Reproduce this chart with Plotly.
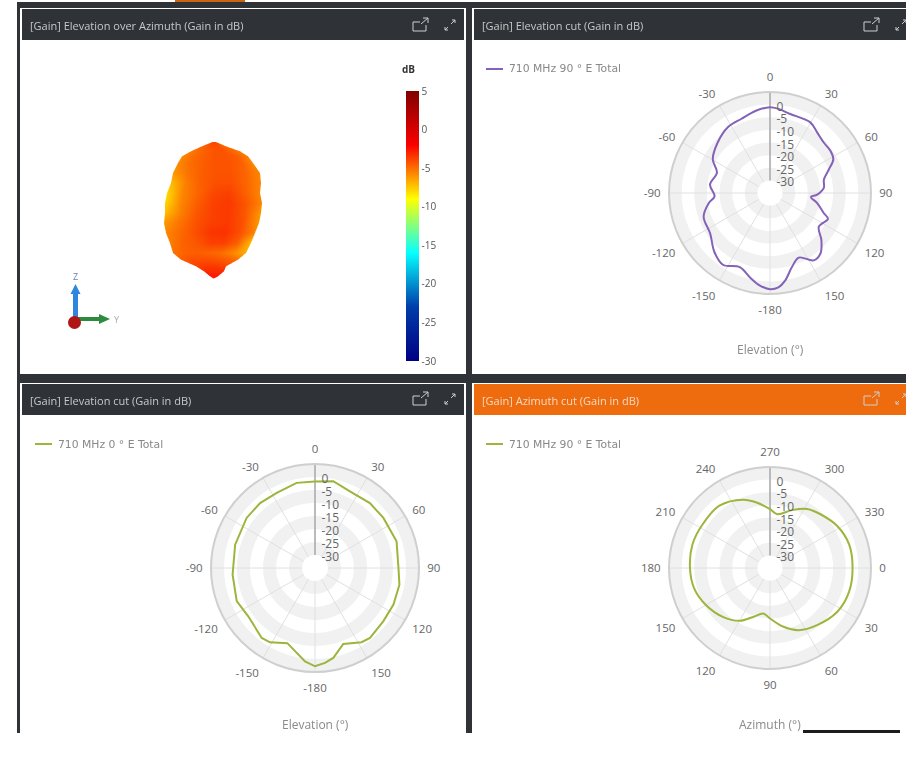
import plotly.graph_objects as go

W, H = 906, 757

# ---- Data ----
el90_theta = [0, 5.7, 14.3, 29.7, 37.9, 46.8, 55.2, 62, 68.2, 76, 84.6, 92, 95.6, 102, 110.6, 114, 124.6, 132.5,
              140.2, 147, 156, 163.5, 170.2, 174.9, 180, 186.2, 193.5, 202.2, 213.3, 223.3, 236, 250.4, 260.6,
              266.5, 278, 291, 300.5, 314, 327.3, 339, 350.7, 360]
el90_gain = [-1.0, -1.5, -2.7, -2.8, -4.6, -5.8, -5.8, -6.6, -9.9, -13, -13.6, -16.3, -18.7, -15.9, -12.2, -9.9, -11.5, -7.4,
             -3.8, -3.2, -7, -4.4, 0.2, 2.5, 3.1, 1.9, -0.7, -3.3, -1, -2.9, -6.4, -7.1, -10.4,
             -13, -11, -12.5, -8.7, -6.2, -4.1, -3.5, -1.9, -1.0]
el0_theta = [0, 11.9, 24.5, 40.2, 53.8, 71.9, 90, 101.2, 115, 128, 141.8, 147.9, 159.6, 168.5, 174, 180,
             186.1, 200.2, 211.2, 217.3, 234.1, 247, 265.4, 286.3, 306.2, 319.8, 333, 347.8, 360]
el0_gain = [-1.7, -0.9, -2.6, -2.3, -2.4, -2, -2.9, -1.9, -1.7, -1.7, -0.8, -1.3, -3.8, 0.3, 1.7, 2.8,
            1.1, -4.2, -1.6, -1.2, -3.3, -2.3, -3.2, -3, -2.4, -2.3, -2.6, -1.5, -1.7]
az_theta = [270, 277.8, 290.7, 302.2, 313.2, 328, 343.4, 360, 376.6, 393, 410.5, 425.3, 437, 450, 458.4, 469,
            479.8, 494, 510, 525, 540, 557, 573, 591, 608.5, 618.4, 630]
az_gain = [-11.7, -13.5, -10.5, -7.4, -5.8, -3.6, -2.3, -2.3, -2.3, -3.2, -5.7, -7.9, -11.1, -15, -16.8, -14.5,
           -10.9, -8.1, -5.7, -3.9, -3.3, -2.9, -3.2, -3.2, -5.9, -8.5, -11.7]

elev_ticks = [0, 30, 60, 90, 120, 150, 180, 210, 240, 270, 300, 330]
elev_labels = ["0", "30", "60", "90", "120", "150", "-180", "-150", "-120", "-90", "-60", "-30"]
az_ticks = [0, 30, 60, 90, 120, 150, 180, 210, 240, 270, 300, 330]
az_labels = ["0", "30", "60", "90", "120", "150", "180", "210", "240", "270", "300", "330"]
gain_ticks = [0, -5, -10, -15, -20, -25, -30]
gain_labels = ["0", "-5", "-10", "-15", "-20", "-25", "-30"]
band_base = [-30, -20, -10, 0]
band_step = 5

cbar_ticks = [5, 0, -5, -10, -15, -20, -25, -30]
cbar_labels = ["5", "0", "-5", "-10", "-15", "-20", "-25", "-30"]

# 3D pattern silhouette as seen along +X: height, left and right extent
blob_z = [51, 46.7, 41.7, 36.7, 30, 20, 10, 0, -10, -20, -30, -40, -50, -60, -66.7, -73.3, -78.3, -83.3, -85.3]
blob_left = [-0.5, -11, -22, -31, -35, -40, -42, -46, -48, -48, -49, -47, -43, -40, -32, -17, -9, -3, 0]
blob_right = [3, 13, 27, 35, 40, 47, 48, 47, 49, 48, 46, 42, 38, 33, 25, 13, 11, 5, 1]
blob_gain = [
    [-4.0, -4.0, -4.0, -4.0, -4.0, -4.0, -4.0],
    [-4.8, -4.6, -4.2, -4.2, -4.2, -4.6, -4.8],
    [-5.4, -4.9, -4.6, -4.3, -4.3, -4.8, -5.3],
    [-5.8, -5.0, -4.6, -4.3, -4.3, -4.6, -5.5],
    [-5.8, -5.0, -4.6, -4.3, -4.3, -4.6, -5.7],
    [-6.2, -5.2, -4.6, -4.3, -4.3, -4.8, -5.7],
    [-7.2, -5.5, -4.6, -4.2, -4.2, -4.8, -5.7],
    [-8.0, -5.7, -4.8, -4.0, -3.8, -4.6, -5.7],
    [-8.0, -5.7, -4.6, -3.8, -3.6, -4.4, -5.7],
    [-7.2, -5.5, -4.4, -3.8, -3.6, -4.4, -6.2],
    [-6.2, -5.2, -4.3, -3.8, -3.6, -4.3, -6.2],
    [-5.7, -4.9, -4.2, -3.5, -3.4, -4.2, -5.7],
    [-5.5, -4.7, -4.4, -3.8, -3.8, -4.6, -7.2],
    [-5.2, -4.7, -4.6, -4.8, -5.0, -5.8, -6.8],
    [-4.7, -4.2, -4.2, -4.2, -4.4, -4.6, -5.2],
    [-3.8, -3.8, -3.6, -3.6, -3.6, -3.8, -3.8],
    [-3.2, -3.2, -3.2, -3.2, -3.2, -3.2, -3.2],
    [-2.8, -2.8, -2.8, -2.8, -2.8, -2.8, -2.8],
    [-2.8, -2.8, -2.8, -2.8, -2.8, -2.8, -2.8],
]

# ---- Style ----
FRAME = "#2f3338"
ORANGE = "#ee6c0d"
PURPLE = "#8462b8"
OLIVE = "#9cb53c"
BAND = "#f1f1f1"
SPOKE = "#e0e0e0"
TXT = "#666666"
TITLE_FONT = "Open Sans"


def px(x):
    return x / W


def py(y):
    return 1 - y / H


fig = go.Figure()


def add_polar(name, theta, gain, color, ticks, top, shape):
    for b in band_base:
        fig.add_trace(go.Barpolar(theta=[180], r=[band_step], base=[b], width=[360], subplot=name,
                                  marker=dict(color=BAND, line=dict(width=0)), showlegend=False, hoverinfo="skip"))
    for t in ticks:
        fig.add_trace(go.Scatterpolar(theta=[t, t], r=[-30, 5], subplot=name, mode="lines",
                                      line=dict(color=SPOKE, width=1), showlegend=False, hoverinfo="skip"))
    fig.add_trace(go.Scatterpolar(theta=[top, top], r=[-30, 5], subplot=name, mode="lines",
                                  line=dict(color="#aaaaaa", width=1.5), showlegend=False, hoverinfo="skip"))
    fig.add_trace(go.Scatterpolar(theta=theta, r=gain, subplot=name, mode="lines",
                                  line=dict(color=color, width=2, shape=shape), showlegend=False))


def polar_layout(cx, cy, r, ticks, labels, rotation):
    return dict(
        domain=dict(x=[px(cx - r), px(cx + r)], y=[py(cy + r), py(cy - r)]),
        bgcolor="rgba(0,0,0,0)",
        bargap=0,
        radialaxis=dict(range=[-35, 5], tickvals=gain_ticks, ticktext=gain_labels, showgrid=False, showline=False,
                        ticks="", angle=90, side="clockwise",
                        tickfont=dict(family=TITLE_FONT, size=12, color=TXT), layer="above traces"),
        angularaxis=dict(direction="clockwise", rotation=rotation, tickmode="array", tickvals=ticks, ticktext=labels,
                         showgrid=False, linecolor="#cfcfcf", linewidth=2, ticks="outside", ticklen=5,
                         tickcolor="rgba(0,0,0,0)", tickfont=dict(family=TITLE_FONT, size=11.5, color=TXT)),
    )


# Pattern surface, seen along +X
n_col = len(blob_gain[0])
Y = [[l + (r_ - l) * c / (n_col - 1) for c in range(n_col)] for l, r_ in zip(blob_left, blob_right)]
Z = [[z] * n_col for z in blob_z]
X = [[0] * n_col for _ in blob_z]
fig.add_trace(go.Surface(
    x=X, y=Y, z=Z, surfacecolor=blob_gain, cmin=-30, cmax=5, colorscale="Jet", scene="scene",
    lighting=dict(ambient=1, diffuse=0, specular=0, roughness=1, fresnel=0), hoverinfo="skip", showscale=True,
    colorbar=dict(x=px(406), xanchor="left", xpad=0, ypad=0, y=py(361), yanchor="bottom",
                  lenmode="pixels", len=270, thicknessmode="pixels", thickness=13, outlinewidth=0, ticks="",
                  tickmode="array", tickvals=cbar_ticks, ticktext=cbar_labels,
                  tickfont=dict(family=TITLE_FONT, size=10, color="#555555")),
))

add_polar("polar", el90_theta, el90_gain, PURPLE, elev_ticks, 0, "spline")
add_polar("polar2", el0_theta, el0_gain, OLIVE, elev_ticks, 0, "linear")
add_polar("polar3", az_theta, az_gain, OLIVE, az_ticks, 270, "spline")


def rect(x0, y0, x1, y1, color, layer="below"):
    return dict(type="rect", xref="paper", yref="paper", x0=px(x0), x1=px(x1), y0=py(y1), y1=py(y0),
                fillcolor=color, line=dict(width=0), layer=layer)


def seg(x0, y0, x1, y1, color, width=1):
    return dict(type="line", xref="paper", yref="paper", x0=px(x0), x1=px(x1), y0=py(y0), y1=py(y1),
                line=dict(color=color, width=width), layer="above")


def path(d, fill=None, line=None, lw=1):
    parts = []
    for item in d:
        if isinstance(item, str):
            parts.append(item)
        else:
            parts.append(f"{px(item[0]):.5f},{py(item[1]):.5f}")
    return dict(type="path", xref="paper", yref="paper", path=" ".join(parts),
                fillcolor=fill or "rgba(0,0,0,0)", line=dict(color=line or "rgba(0,0,0,0)", width=lw), layer="above")


shapes = [
    rect(175, 0, 245, 3, "#c9640f"),
    rect(17, 2, 906, 733, FRAME),
    rect(20, 8, 466, 374, "#ffffff"),
    rect(472, 8, 906, 374, "#ffffff"),
    rect(20, 383, 466, 733, "#ffffff"),
    rect(472, 383, 906, 733, "#ffffff"),
    rect(22, 9, 464, 40, FRAME),
    rect(474, 9, 906, 40, FRAME),
    rect(22, 384, 464, 415, FRAME),
    rect(474, 384, 906, 415, ORANGE),
    rect(803, 730, 900, 733, "#1c1c1c", "above"),
]


def header_icons(ox, oy, color="#cfcfcf"):
    return [
        path(["M", (ox + 0, oy + 4), "L", (ox + 0, oy + 13), "L", (ox + 13, oy + 13), "L", (ox + 13, oy + 7)], line=color),
        path(["M", (ox + 0, oy + 4), "L", (ox + 7, oy + 4)], line=color),
        path(["M", (ox + 8, oy + 6), "L", (ox + 15, oy + 0)], line=color),
        path(["M", (ox + 10, oy + 0), "L", (ox + 15, oy + 0), "L", (ox + 15, oy + 5)], line=color),
        path(["M", (ox + 32, oy + 12), "L", (ox + 35, oy + 9)], line=color),
        path(["M", (ox + 32, oy + 9), "L", (ox + 32, oy + 12), "L", (ox + 35, oy + 12)], line=color),
        path(["M", (ox + 38, oy + 6), "L", (ox + 42, oy + 2)], line=color),
        path(["M", (ox + 39, oy + 2), "L", (ox + 42, oy + 2), "L", (ox + 42, oy + 5)], line=color),
    ]


shapes += header_icons(413, 18) + header_icons(864, 18) + header_icons(413, 392) + header_icons(864, 392)

# legend samples
shapes += [seg(486, 69, 503, 69, PURPLE, 2), seg(35, 444, 52, 444, OLIVE, 2), seg(486, 444, 503, 444, OLIVE, 2)]

# orientation triad
shapes += [
    seg(75.5, 320, 75.5, 292, "#2e86de", 5),
    path(["M", (70.5, 294), "L", (75.5, 284), "L", (80.5, 294), "Z"], fill="#2e86de"),
    seg(76, 319, 101, 319, "#2e8b3d", 4),
    path(["M", (99, 314), "L", (110, 319), "L", (99, 324), "Z"], fill="#2e8b3d"),
    dict(type="circle", xref="paper", yref="paper", x0=px(68), x1=px(81), y0=py(329), y1=py(316),
         fillcolor="#b01515", line=dict(width=0), layer="above"),
]


def note(x, y, text, size=11, color="#c8c8c8", family=TITLE_FONT, anchor="left", bold=False):
    return dict(xref="paper", yref="paper", x=px(x), y=py(y), text=f"<b>{text}</b>" if bold else text, showarrow=False,
                xanchor=anchor, yanchor="middle", font=dict(family=family, size=size, color=color))


annotations = [
    note(28, 25, "[Gain] Elevation over Azimuth (Gain in dB)"),
    note(480, 25, "[Gain] Elevation cut (Gain in dB)"),
    note(28, 400, "[Gain] Elevation cut (Gain in dB)"),
    note(480, 400, "[Gain] Azimuth cut (Gain in dB)", color="#f3d9c2"),
    note(507, 69, "710 MHz 90 ° E Total", 10.8, "#888888", "DejaVu Sans"),
    note(56, 444, "710 MHz 0 ° E Total", 10.8, "#888888", "DejaVu Sans"),
    note(507, 444, "710 MHz 90 ° E Total", 10.8, "#888888", "DejaVu Sans"),
    note(770, 350, "Elevation (°)", 12, "#8a8a8a", anchor="center"),
    note(315, 724, "Elevation (°)", 12, "#8a8a8a", anchor="center"),
    note(770, 724, "Azimuth (°)", 12, "#8a8a8a", anchor="center"),
    note(408, 69, "dB", 10, "#333333", anchor="center", bold=True),
    note(75.5, 276, "Z", 9, "#6a7fb5", anchor="center"),
    note(117, 319, "Y", 9, "#aaaaaa", anchor="center"),
]

fig.update_layout(
    width=W, height=H, margin=dict(l=0, r=0, t=0, b=0), autosize=False,
    paper_bgcolor="#ffffff", showlegend=False, shapes=shapes, annotations=annotations,
    polar=polar_layout(770, 193, 101, elev_ticks, elev_labels, 90),
    polar2=polar_layout(315, 568, 104, elev_ticks, elev_labels, 90),
    polar3=polar_layout(770, 568, 101, az_ticks, az_labels, 0),
    scene=dict(
        domain=dict(x=[px(63), px(363)], y=[py(343), py(43)]),
        xaxis=dict(visible=False, range=[-150, 150]),
        yaxis=dict(visible=False, range=[-150, 150]),
        zaxis=dict(visible=False, range=[-150, 150]),
        aspectmode="manual", aspectratio=dict(x=2, y=2, z=2),
        camera=dict(eye=dict(x=1, y=0, z=0), up=dict(x=0, y=0, z=1), center=dict(x=0, y=0, z=0),
                    projection=dict(type="orthographic")),
        bgcolor="rgba(0,0,0,0)",
    ),
)

fig.write_html("out.html", config=dict(displayModeBar=False),
               post_script="document.body.style.margin='0';document.body.style.overflow='hidden';")
